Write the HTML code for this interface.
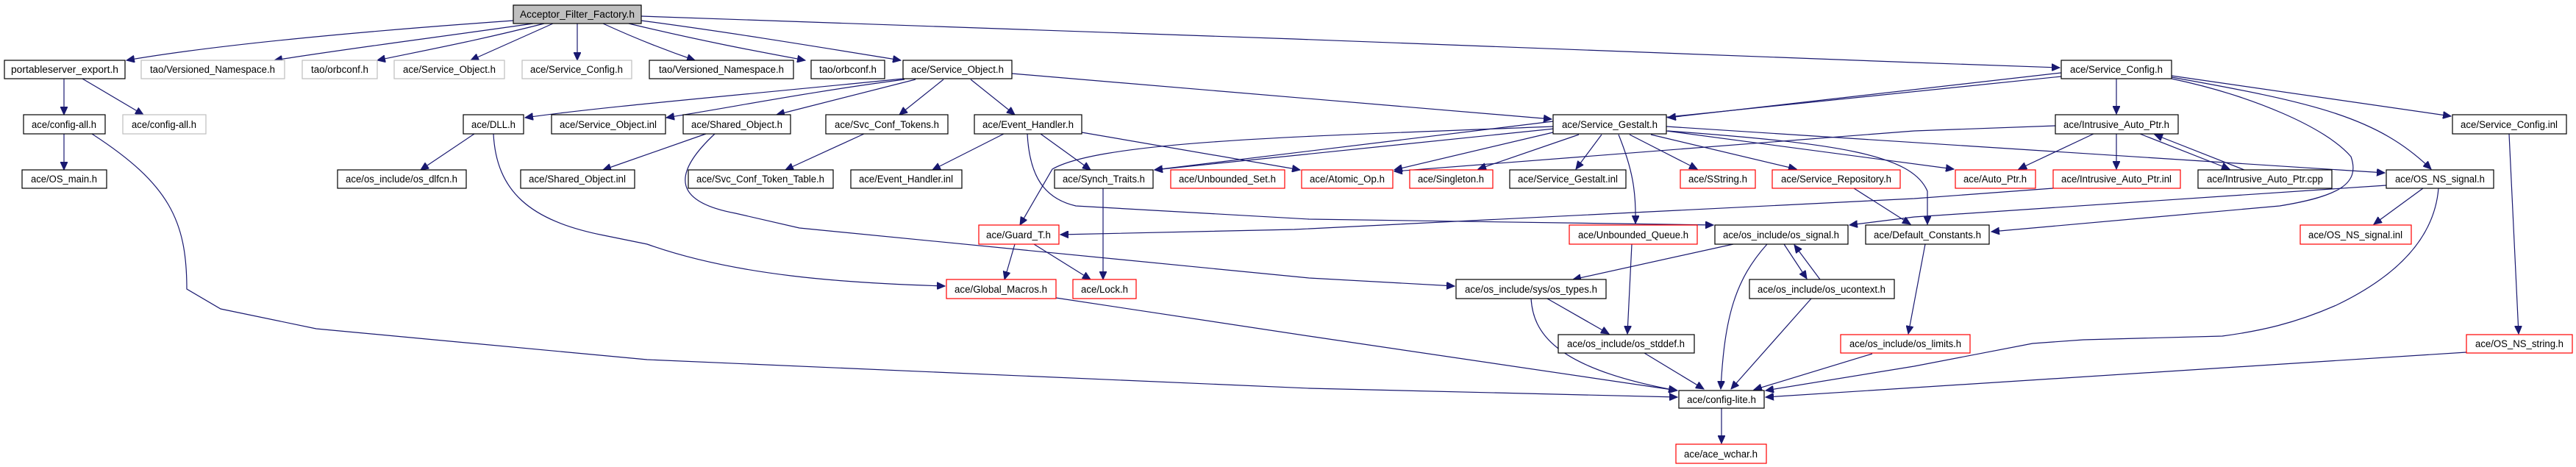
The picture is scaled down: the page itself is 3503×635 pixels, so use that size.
<!DOCTYPE html>
<html><head><meta charset="utf-8"><style>
html,body{margin:0;padding:0;background:#fff;}
svg{display:block;}
text{font-family:"Liberation Sans",sans-serif;font-size:13.5px;fill:#000;}
.e{fill:none;stroke:#191970;stroke-width:1.2;marker-end:url(#a);}
</style></head><body>
<svg width="3503" height="635" viewBox="0 0 3503 635" xmlns="http://www.w3.org/2000/svg">
<defs><marker id="a" markerUnits="userSpaceOnUse" markerWidth="12" markerHeight="10" refX="11" refY="5" orient="auto"><path d="M0,0 L11,5 L0,10 Z" fill="#191970" stroke="#191970"/></marker></defs>
<g>
<path class="e" d="M698,28 C500,42 300,60 172,82"/>
<path class="e" d="M725,32 C600,50 480,65 373,82"/>
<path class="e" d="M740,32 C650,55 580,68 513,82"/>
<path class="e" d="M752,32 L640,82"/>
<path class="e" d="M785,32 L785,82"/>
<path class="e" d="M820,32 C870,55 910,70 945,82"/>
<path class="e" d="M855,32 C950,55 1030,70 1095,82"/>
<path class="e" d="M872,28 C1000,45 1120,65 1225,82"/>
<path class="e" d="M872,22 L1760,53 L2603,85 L2801,92"/>
<path class="e" d="M87,107 L87,156"/>
<path class="e" d="M112,107 L195,156"/>
<path class="e" d="M87,182 L87,231"/>
<path class="e" d="M125,182 C230,250 254,300 254,393 L300,420 L430,447 L880,489 L1780,528 L2281,540"/>
<path class="e" d="M645,182 L572,231"/>
<path class="e" d="M671,182 C675,260 720,300 821,320 L880,332 C1000,375 1150,385 1285,389"/>
<path class="e" d="M1228,107 C1000,130 820,145 714,160"/>
<path class="e" d="M1230,108 C1100,125 1000,145 906,160"/>
<path class="e" d="M1245,108 L1056,156"/>
<path class="e" d="M1283,108 L1223,156"/>
<path class="e" d="M1320,108 L1380,156"/>
<path class="e" d="M1376,100 L2110,162"/>
<path class="e" d="M960,182 L820,231"/>
<path class="e" d="M972,182 C910,240 920,275 1000,290 L1087,310 L1780,378 L1978,389"/>
<path class="e" d="M1175,182 L1068,231"/>
<path class="e" d="M1365,182 L1268,231"/>
<path class="e" d="M1415,182 L1483,231"/>
<path class="e" d="M1471,180 L1768,231"/>
<path class="e" d="M1397,182 C1400,240 1420,270 1463,280 L1780,298 L2330,306"/>
<path class="e" d="M1500,256 L1500,380"/>
<path class="e" d="M1380,332 L1366,380"/>
<path class="e" d="M1406,332 L1483,380"/>
<path class="e" d="M2792,256 L2603,270 L1760,312 L1442,319"/>
<path class="e" d="M2112,172 C1800,185 1500,190 1431,230 L1387,306"/>
<path class="e" d="M2803,99 L2268,160"/>
<path class="e" d="M2803,104 L1570,231"/>
<path class="e" d="M2112,165 L1570,231"/>
<path class="e" d="M2112,180 L1896,231"/>
<path class="e" d="M2795,171 L2603,178 L1896,233"/>
<path class="e" d="M2147,183 L2010,230"/>
<path class="e" d="M2178,183 L2143,230"/>
<path class="e" d="M2201,183 C2220,230 2225,260 2224,304"/>
<path class="e" d="M2216,183 L2308,230"/>
<path class="e" d="M2245,183 L2443,230"/>
<path class="e" d="M2266,178 L2657,230"/>
<path class="e" d="M2266,172 L3243,235"/>
<path class="e" d="M2268,178 C2500,195 2600,210 2621,260 L2621,305"/>
<path class="e" d="M2953,107 C3062,130 3163,173 3197,213 C3210,250 3180,267 3100,280 L2708,315"/>
<path class="e" d="M2878,107 L2878,155"/>
<path class="e" d="M2953,103 L3333,158"/>
<path class="e" d="M2953,105 C3150,140 3234,160 3306,230"/>
<path class="e" d="M2847,182 L2745,230"/>
<path class="e" d="M2878,182 L2878,230"/>
<path class="e" d="M2910,182 L3032,230"/>
<path class="e" d="M3052,231 L2930,183"/>
<path class="e" d="M3412,182 L3425,454"/>
<path class="e" d="M3354,479 L2401,540"/>
<path class="e" d="M3245,252 L2603,295 L2515,306"/>
<path class="e" d="M3295,256 L3228,305"/>
<path class="e" d="M3316,256 C3310,330 3250,380 3177,415 C3120,440 3074,450 3022,457 L2833,462 L2764,467 L2603,498 L2401,531"/>
<path class="e" d="M2618,332 L2595,454"/>
<path class="e" d="M2521,256 L2598,305"/>
<path class="e" d="M2357,332 L2139,380"/>
<path class="e" d="M2403,332 C2360,380 2345,430 2340,529"/>
<path class="e" d="M2426,332 L2457,379"/>
<path class="e" d="M2475,380 L2440,333"/>
<path class="e" d="M2463,406 L2354,529"/>
<path class="e" d="M2104,406 L2188,454"/>
<path class="e" d="M2082,406 C2085,450 2110,500 2280,531"/>
<path class="e" d="M2219,332 L2213,454"/>
<path class="e" d="M2236,480 L2317,529"/>
<path class="e" d="M2546,481 L2385,530"/>
<path class="e" d="M1436,405 L1780,457 L2281,531"/>
<path class="e" d="M2341,555 L2341,603"/>
</g>
<g stroke-width="1.2">
<rect x="698" y="7" width="174" height="25" fill="#bfbfbf" stroke="#000"/><text x="785" y="24" text-anchor="middle" textLength="156" lengthAdjust="spacingAndGlyphs">Acceptor_Filter_Factory.h</text>
<rect x="6" y="82" width="164" height="25" fill="#fff" stroke="#000"/><text x="88" y="99" text-anchor="middle" textLength="146" lengthAdjust="spacingAndGlyphs">portableserver_export.h</text>
<rect x="192" y="82" width="195" height="25" fill="#fff" stroke="#bfbfbf"/><text x="289" y="99" text-anchor="middle" textLength="170" lengthAdjust="spacingAndGlyphs">tao/Versioned_Namespace.h</text>
<rect x="411" y="82" width="102" height="25" fill="#fff" stroke="#bfbfbf"/><text x="462" y="99" text-anchor="middle" textLength="78" lengthAdjust="spacingAndGlyphs">tao/orbconf.h</text>
<rect x="536" y="82" width="150" height="25" fill="#fff" stroke="#bfbfbf"/><text x="611" y="99" text-anchor="middle" textLength="126" lengthAdjust="spacingAndGlyphs">ace/Service_Object.h</text>
<rect x="710" y="82" width="149" height="25" fill="#fff" stroke="#bfbfbf"/><text x="784" y="99" text-anchor="middle" textLength="126" lengthAdjust="spacingAndGlyphs">ace/Service_Config.h</text>
<rect x="883" y="82" width="196" height="25" fill="#fff" stroke="#000"/><text x="981" y="99" text-anchor="middle" textLength="170" lengthAdjust="spacingAndGlyphs">tao/Versioned_Namespace.h</text>
<rect x="1103" y="82" width="100" height="25" fill="#fff" stroke="#000"/><text x="1153" y="99" text-anchor="middle" textLength="78" lengthAdjust="spacingAndGlyphs">tao/orbconf.h</text>
<rect x="1228" y="82" width="148" height="25" fill="#fff" stroke="#000"/><text x="1302" y="99" text-anchor="middle" textLength="126" lengthAdjust="spacingAndGlyphs">ace/Service_Object.h</text>
<rect x="2803" y="82" width="150" height="25" fill="#fff" stroke="#000"/><text x="2878" y="99" text-anchor="middle" textLength="126" lengthAdjust="spacingAndGlyphs">ace/Service_Config.h</text>
<rect x="32" y="156" width="111" height="26" fill="#fff" stroke="#000"/><text x="87" y="174" text-anchor="middle" textLength="88" lengthAdjust="spacingAndGlyphs">ace/config-all.h</text>
<rect x="167" y="156" width="113" height="26" fill="#fff" stroke="#bfbfbf"/><text x="223" y="174" text-anchor="middle" textLength="88" lengthAdjust="spacingAndGlyphs">ace/config-all.h</text>
<rect x="630" y="156" width="82" height="26" fill="#fff" stroke="#000"/><text x="671" y="174" text-anchor="middle" textLength="60" lengthAdjust="spacingAndGlyphs">ace/DLL.h</text>
<rect x="750" y="156" width="155" height="26" fill="#fff" stroke="#000"/><text x="827" y="174" text-anchor="middle" textLength="132" lengthAdjust="spacingAndGlyphs">ace/Service_Object.inl</text>
<rect x="929" y="156" width="146" height="26" fill="#fff" stroke="#000"/><text x="1002" y="174" text-anchor="middle" textLength="124" lengthAdjust="spacingAndGlyphs">ace/Shared_Object.h</text>
<rect x="1123" y="156" width="166" height="26" fill="#fff" stroke="#000"/><text x="1206" y="174" text-anchor="middle" textLength="142" lengthAdjust="spacingAndGlyphs">ace/Svc_Conf_Tokens.h</text>
<rect x="1325" y="156" width="146" height="26" fill="#fff" stroke="#000"/><text x="1398" y="174" text-anchor="middle" textLength="124" lengthAdjust="spacingAndGlyphs">ace/Event_Handler.h</text>
<rect x="2112" y="156" width="154" height="26" fill="#fff" stroke="#000"/><text x="2189" y="174" text-anchor="middle" textLength="130" lengthAdjust="spacingAndGlyphs">ace/Service_Gestalt.h</text>
<rect x="2795" y="156" width="167" height="26" fill="#fff" stroke="#000"/><text x="2878" y="174" text-anchor="middle" textLength="144" lengthAdjust="spacingAndGlyphs">ace/Intrusive_Auto_Ptr.h</text>
<rect x="3335" y="156" width="155" height="26" fill="#fff" stroke="#000"/><text x="3412" y="174" text-anchor="middle" textLength="132" lengthAdjust="spacingAndGlyphs">ace/Service_Config.inl</text>
<rect x="30" y="231" width="115" height="25" fill="#fff" stroke="#000"/><text x="87" y="248" text-anchor="middle" textLength="90" lengthAdjust="spacingAndGlyphs">ace/OS_main.h</text>
<rect x="459" y="231" width="175" height="25" fill="#fff" stroke="#000"/><text x="546" y="248" text-anchor="middle" textLength="152" lengthAdjust="spacingAndGlyphs">ace/os_include/os_dlfcn.h</text>
<rect x="708" y="231" width="155" height="25" fill="#fff" stroke="#000"/><text x="785" y="248" text-anchor="middle" textLength="132" lengthAdjust="spacingAndGlyphs">ace/Shared_Object.inl</text>
<rect x="936" y="231" width="197" height="25" fill="#fff" stroke="#000"/><text x="1034" y="248" text-anchor="middle" textLength="174" lengthAdjust="spacingAndGlyphs">ace/Svc_Conf_Token_Table.h</text>
<rect x="1157" y="231" width="151" height="25" fill="#fff" stroke="#000"/><text x="1232" y="248" text-anchor="middle" textLength="128" lengthAdjust="spacingAndGlyphs">ace/Event_Handler.inl</text>
<rect x="1434" y="231" width="134" height="25" fill="#fff" stroke="#000"/><text x="1501" y="248" text-anchor="middle" textLength="112" lengthAdjust="spacingAndGlyphs">ace/Synch_Traits.h</text>
<rect x="1592" y="231" width="155" height="25" fill="#fff" stroke="#f00"/><text x="1669" y="248" text-anchor="middle" textLength="132" lengthAdjust="spacingAndGlyphs">ace/Unbounded_Set.h</text>
<rect x="1770" y="231" width="124" height="25" fill="#fff" stroke="#f00"/><text x="1832" y="248" text-anchor="middle" textLength="102" lengthAdjust="spacingAndGlyphs">ace/Atomic_Op.h</text>
<rect x="1917" y="231" width="113" height="25" fill="#fff" stroke="#f00"/><text x="1973" y="248" text-anchor="middle" textLength="90" lengthAdjust="spacingAndGlyphs">ace/Singleton.h</text>
<rect x="2053" y="231" width="158" height="25" fill="#fff" stroke="#000"/><text x="2132" y="248" text-anchor="middle" textLength="136" lengthAdjust="spacingAndGlyphs">ace/Service_Gestalt.inl</text>
<rect x="2285" y="231" width="102" height="25" fill="#fff" stroke="#f00"/><text x="2336" y="248" text-anchor="middle" textLength="80" lengthAdjust="spacingAndGlyphs">ace/SString.h</text>
<rect x="2410" y="231" width="174" height="25" fill="#fff" stroke="#f00"/><text x="2497" y="248" text-anchor="middle" textLength="150" lengthAdjust="spacingAndGlyphs">ace/Service_Repository.h</text>
<rect x="2659" y="231" width="109" height="25" fill="#fff" stroke="#f00"/><text x="2713" y="248" text-anchor="middle" textLength="86" lengthAdjust="spacingAndGlyphs">ace/Auto_Ptr.h</text>
<rect x="2792" y="231" width="173" height="25" fill="#fff" stroke="#f00"/><text x="2878" y="248" text-anchor="middle" textLength="150" lengthAdjust="spacingAndGlyphs">ace/Intrusive_Auto_Ptr.inl</text>
<rect x="2989" y="231" width="182" height="25" fill="#fff" stroke="#000"/><text x="3080" y="248" text-anchor="middle" textLength="158" lengthAdjust="spacingAndGlyphs">ace/Intrusive_Auto_Ptr.cpp</text>
<rect x="3245" y="231" width="146" height="25" fill="#fff" stroke="#000"/><text x="3318" y="248" text-anchor="middle" textLength="122" lengthAdjust="spacingAndGlyphs">ace/OS_NS_signal.h</text>
<rect x="1331" y="306" width="109" height="26" fill="#fff" stroke="#f00"/><text x="1385" y="324" text-anchor="middle" textLength="88" lengthAdjust="spacingAndGlyphs">ace/Guard_T.h</text>
<rect x="2134" y="306" width="174" height="26" fill="#fff" stroke="#f00"/><text x="2221" y="324" text-anchor="middle" textLength="150" lengthAdjust="spacingAndGlyphs">ace/Unbounded_Queue.h</text>
<rect x="2332" y="306" width="181" height="26" fill="#fff" stroke="#000"/><text x="2422" y="324" text-anchor="middle" textLength="158" lengthAdjust="spacingAndGlyphs">ace/os_include/os_signal.h</text>
<rect x="2537" y="306" width="168" height="26" fill="#fff" stroke="#000"/><text x="2621" y="324" text-anchor="middle" textLength="146" lengthAdjust="spacingAndGlyphs">ace/Default_Constants.h</text>
<rect x="3128" y="306" width="151" height="26" fill="#fff" stroke="#f00"/><text x="3203" y="324" text-anchor="middle" textLength="128" lengthAdjust="spacingAndGlyphs">ace/OS_NS_signal.inl</text>
<rect x="1287" y="380" width="149" height="26" fill="#fff" stroke="#f00"/><text x="1361" y="398" text-anchor="middle" textLength="126" lengthAdjust="spacingAndGlyphs">ace/Global_Macros.h</text>
<rect x="1459" y="380" width="86" height="26" fill="#fff" stroke="#f00"/><text x="1502" y="398" text-anchor="middle" textLength="64" lengthAdjust="spacingAndGlyphs">ace/Lock.h</text>
<rect x="1980" y="380" width="204" height="26" fill="#fff" stroke="#000"/><text x="2082" y="398" text-anchor="middle" textLength="180" lengthAdjust="spacingAndGlyphs">ace/os_include/sys/os_types.h</text>
<rect x="2379" y="380" width="197" height="26" fill="#fff" stroke="#000"/><text x="2477" y="398" text-anchor="middle" textLength="174" lengthAdjust="spacingAndGlyphs">ace/os_include/os_ucontext.h</text>
<rect x="2119" y="455" width="185" height="25" fill="#fff" stroke="#000"/><text x="2211" y="472" text-anchor="middle" textLength="160" lengthAdjust="spacingAndGlyphs">ace/os_include/os_stddef.h</text>
<rect x="2503" y="455" width="176" height="25" fill="#fff" stroke="#f00"/><text x="2591" y="472" text-anchor="middle" textLength="152" lengthAdjust="spacingAndGlyphs">ace/os_include/os_limits.h</text>
<rect x="3354" y="455" width="144" height="25" fill="#fff" stroke="#f00"/><text x="3426" y="472" text-anchor="middle" textLength="120" lengthAdjust="spacingAndGlyphs">ace/OS_NS_string.h</text>
<rect x="2283" y="531" width="116" height="24" fill="#fff" stroke="#000"/><text x="2341" y="548" text-anchor="middle" textLength="94" lengthAdjust="spacingAndGlyphs">ace/config-lite.h</text>
<rect x="2279" y="604" width="123" height="26" fill="#fff" stroke="#f00"/><text x="2340" y="622" text-anchor="middle" textLength="100" lengthAdjust="spacingAndGlyphs">ace/ace_wchar.h</text>
</g>
</svg>
</body></html>
